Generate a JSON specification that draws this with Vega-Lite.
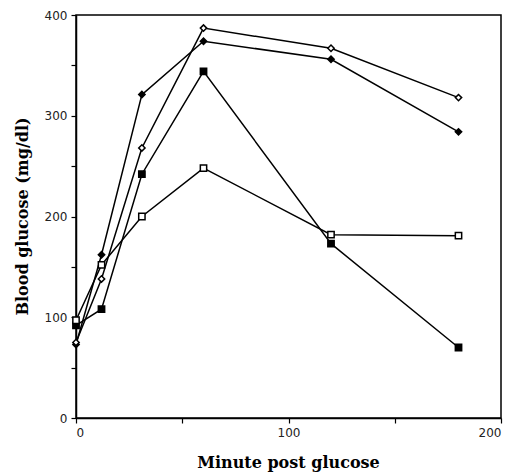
{
  "$schema": "https://vega.github.io/schema/vega-lite/v6.json",
  "width": 425,
  "height": 403,
  "autosize": {"type": "none"},
  "padding": {"left": 76, "top": 15, "right": 12, "bottom": 55},
  "background": "white",
  "config": {
    "view": {"stroke": "black", "strokeWidth": 1.5},
    "axis": {
      "labelFont": "DejaVu Sans",
      "labelFontSize": 12,
      "labelColor": "#222",
      "titleFont": "DejaVu Serif",
      "titleFontSize": 16,
      "titleFontWeight": "bold",
      "titleColor": "black",
      "tickColor": "black",
      "tickSize": 5,
      "tickWidth": 1.2,
      "domainColor": "black",
      "domainWidth": 1.5,
      "grid": false
    }
  },
  "data": {
    "values": [
      {"series": "S1", "minute": 0, "glucose": 73},
      {"series": "S1", "minute": 12, "glucose": 162},
      {"series": "S1", "minute": 31, "glucose": 321},
      {"series": "S1", "minute": 60, "glucose": 374},
      {"series": "S1", "minute": 120, "glucose": 356},
      {"series": "S1", "minute": 180, "glucose": 284},
      {"series": "S2", "minute": 0, "glucose": 75},
      {"series": "S2", "minute": 12, "glucose": 138},
      {"series": "S2", "minute": 31, "glucose": 268},
      {"series": "S2", "minute": 60, "glucose": 387},
      {"series": "S2", "minute": 120, "glucose": 367},
      {"series": "S2", "minute": 180, "glucose": 318},
      {"series": "S3", "minute": 0, "glucose": 92},
      {"series": "S3", "minute": 12, "glucose": 108},
      {"series": "S3", "minute": 31, "glucose": 242},
      {"series": "S3", "minute": 60, "glucose": 344},
      {"series": "S3", "minute": 120, "glucose": 173},
      {"series": "S3", "minute": 180, "glucose": 70},
      {"series": "S4", "minute": 0, "glucose": 97},
      {"series": "S4", "minute": 12, "glucose": 152},
      {"series": "S4", "minute": 31, "glucose": 200},
      {"series": "S4", "minute": 60, "glucose": 248},
      {"series": "S4", "minute": 120, "glucose": 182},
      {"series": "S4", "minute": 180, "glucose": 181}
    ]
  },
  "encoding": {
    "x": {
      "field": "minute",
      "type": "quantitative",
      "scale": {"domain": [0, 200], "nice": false, "zero": false},
      "axis": {
        "title": "Minute post glucose",
        "values": [0, 50, 100, 150, 200],
        "labelExpr": "datum.value % 100 === 0 ? datum.label : ''",
        "labelPadding": 4,
        "titleX": 212,
        "titleY": 44,
        "titleAlign": "center",
        "titleBaseline": "middle"
      }
    },
    "y": {
      "field": "glucose",
      "type": "quantitative",
      "scale": {"domain": [0, 400], "nice": false},
      "axis": {
        "title": "Blood glucose (mg/dl)",
        "values": [0, 50, 100, 150, 200, 250, 300, 350, 400],
        "labelExpr": "datum.value % 100 === 0 ? datum.label : ''",
        "labelPadding": 4,
        "titleX": -54,
        "titleY": 201,
        "titleAngle": -90,
        "titleAlign": "center",
        "titleBaseline": "middle"
      }
    }
  },
  "layer": [
    {
      "mark": {"type": "line", "color": "black", "strokeWidth": 1.5},
      "encoding": {"detail": {"field": "series"}}
    },
    {
      "mark": {"type": "point", "stroke": "black", "strokeWidth": 1.5, "opacity": 1, "size": 40},
      "encoding": {
        "shape": {
          "field": "series",
          "scale": {"domain": ["S1", "S2", "S3", "S4"], "range": ["diamond", "diamond", "square", "square"]},
          "legend": null
        },
        "fill": {
          "field": "series",
          "scale": {"domain": ["S1", "S2", "S3", "S4"], "range": ["black", "white", "black", "white"]},
          "legend": null
        }
      }
    }
  ]
}
